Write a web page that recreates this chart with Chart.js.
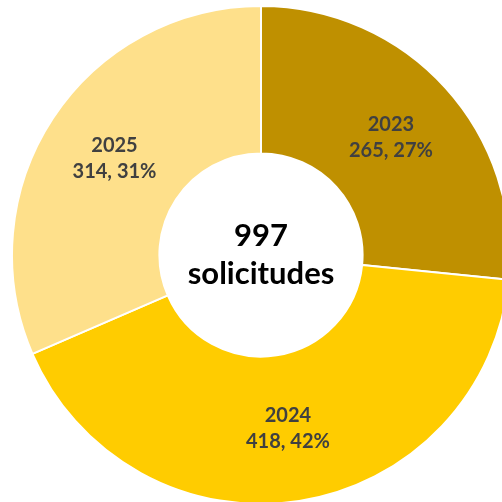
<!DOCTYPE html>
<html>
<head>
<meta charset="utf-8">
<script src="https://cdn.jsdelivr.net/npm/chart.js@4/dist/chart.umd.min.js"></script>
<style>
    html, body { margin: 0; padding: 0; background: #fff; overflow: hidden; width: 502px; height: 502px; }
    #wrap { position: absolute; left: 11px; top: 5px; width: 500px; height: 500px; }
</style>
</head>
<body>
<div id="wrap"><canvas id="donut" width="500" height="500"></canvas></div>
<script>
// Data
const years = ['2023', '2024', '2025'];
const requests = [265, 418, 314];
const sliceColors = ['#BF9000', '#FFCC00', '#FEE08B'];
const centerLines = ['997', 'solicitudes'];

const total = requests.reduce((a, b) => a + b, 0);
const FONT = 'Lato, "Open Sans", sans-serif';

// Labels inside each slice + total in the hole
const donutLabels = {
    id: 'donutLabels',
    afterDatasetsDraw(chart) {
        const ctx = chart.ctx;
        const meta = chart.getDatasetMeta(0);
        ctx.save();
        ctx.textAlign = 'center';
        ctx.textBaseline = 'middle';
        ctx.fillStyle = '#404040';
        ctx.font = 'bold 20px ' + FONT;
        meta.data.forEach((arc, i) => {
            const p = arc.getCenterPoint();
            const pct = Math.round(requests[i] / total * 100);
            ctx.fillText(years[i], p.x, p.y - 13);
            ctx.fillText(requests[i] + ', ' + pct + '%', p.x, p.y + 13);
        });

        const c = meta.data[0];
        ctx.fillStyle = '#000';
        ctx.font = 'bold 31px ' + FONT;
        ctx.fillText(centerLines[0], c.x, c.y - 19);
        ctx.fillText(centerLines[1], c.x, c.y + 19);
        ctx.restore();
    }
};

new Chart(document.getElementById('donut'), {
    type: 'doughnut',
    data: {
        labels: years,
        datasets: [{
            data: requests,
            backgroundColor: sliceColors,
            borderColor: '#ffffff',
            borderWidth: 2
        }]
    },
    options: {
        responsive: false,
        animation: false,
        cutout: '40.8%',
        layout: { padding: 0 },
        plugins: {
            legend: { display: false },
            tooltip: { enabled: false }
        }
    },
    plugins: [donutLabels]
});
</script>
</body>
</html>
